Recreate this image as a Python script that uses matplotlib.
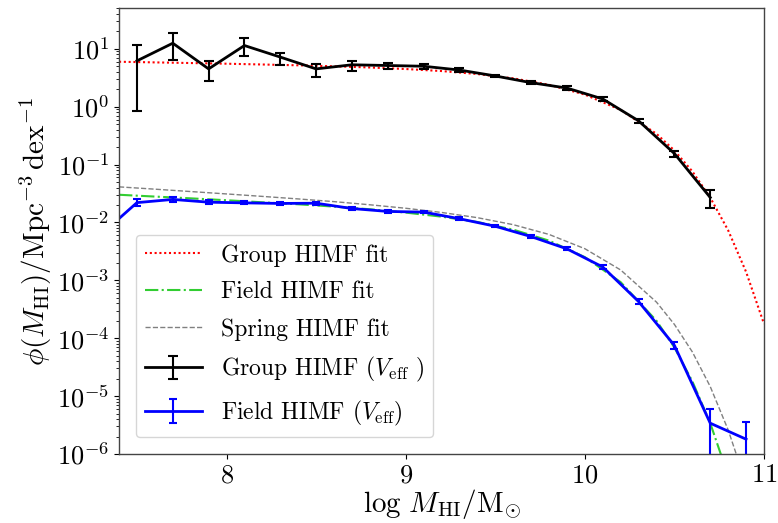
import matplotlib
matplotlib.use("Agg")
import matplotlib.pyplot as plt
import numpy as np

# ---------------- data ----------------
# Group HIMF (V_eff) data points
group_x = [7.5, 7.7, 7.9, 8.1, 8.3, 8.5, 8.7, 8.9, 9.1, 9.3, 9.5, 9.7, 9.9, 10.1, 10.3, 10.5, 10.7]
group_phi = [6.2, 12.5, 4.5, 11.4, 7.2, 4.5, 5.3, 5.15, 5.0, 4.3, 3.4, 2.6, 2.1, 1.36, 0.57, 0.155, 0.027]
group_hi = [11.7, 18.6, 6.2, 15.3, 8.6, 5.4, 6.2, 5.8, 5.5, 4.6, 3.6, 2.75, 2.25, 1.45, 0.62, 0.175, 0.036]
group_lo = [0.83, 6.3, 2.8, 7.4, 5.2, 3.25, 4.2, 4.5, 4.5, 4.0, 3.2, 2.45, 1.95, 1.27, 0.52, 0.135, 0.018]

# Field HIMF (V_eff) data points
field_x = [7.3, 7.5, 7.7, 7.9, 8.1, 8.3, 8.5, 8.7, 8.9, 9.1, 9.3, 9.5, 9.7, 9.9, 10.1, 10.3, 10.5, 10.7, 10.9]
field_phi = [0.0062, 0.022, 0.025, 0.0224, 0.0218, 0.0213, 0.0215, 0.0174, 0.0155, 0.0151, 0.0116,
             0.0086, 0.0057, 0.0035, 0.0017, 4.3e-4, 7.5e-5, 3.4e-6, 1.8e-6]
field_hi = [0.0068, 0.0257, 0.0272, 0.0240, 0.0232, 0.0226, 0.0228, 0.0184, 0.0163, 0.0159, 0.0122,
            0.0090, 0.0060, 0.0037, 0.00181, 4.7e-4, 8.6e-5, 6.0e-6, 3.5e-6]
field_lo = [0.0056, 0.0190, 0.0230, 0.0209, 0.0205, 0.0200, 0.0202, 0.0165, 0.0147, 0.0143, 0.0110,
            0.0082, 0.0054, 0.0033, 0.00159, 3.9e-4, 6.5e-5, 1e-7, 1e-7]

# Fit curves
fit_x = [7.4, 7.6, 7.8, 8.0, 8.2, 8.4, 8.6, 8.8, 9.0, 9.2, 9.4, 9.6, 9.8, 10.0, 10.2, 10.4, 10.5,
         10.6, 10.7, 10.8, 10.9, 11.0]
group_fit = [5.98, 5.83, 5.68, 5.53, 5.36, 5.19, 4.99, 4.76, 4.48, 4.13, 3.67, 3.09, 2.39, 1.62,
             0.88, 0.34, 0.175, 0.0763, 0.0269, 7.3e-3, 1.40e-3, 1.77e-4]
field_fit = [0.0301, 0.0280, 0.0261, 0.0242, 0.0223, 0.0206, 0.0188, 0.0169, 0.0148, 0.0126, 0.0102,
             0.00752, 0.00485, 0.00252, 9.3e-4, 2.0e-4, 6.9e-5, 1.8e-5, 3.4e-6, 4.2e-7, 1e-8, 1e-9]
spring_fit = [0.0412, 0.0376, 0.0342, 0.0311, 0.0282, 0.0255, 0.0229, 0.0202, 0.0176, 0.0149, 0.0121,
              0.00916, 0.00621, 0.00352, 0.00151, 4.2e-4, 1.73e-4, 5.8e-5, 1.46e-5, 2.6e-6, 3.1e-7, 1e-8]

# ---------------- style ----------------
plt.rcParams['font.family'] = 'serif'
plt.rcParams['font.serif'] = ['cmr10', 'DejaVu Serif']
plt.rcParams['mathtext.fontset'] = 'cm'
plt.rcParams['axes.formatter.use_mathtext'] = True
plt.rcParams['axes.unicode_minus'] = False

fig = plt.figure(figsize=(7.78, 5.23), dpi=100)
ax = fig.add_axes([0.153, 0.132, 0.829, 0.852])

ax.plot(fit_x, group_fit, ls=(0, (1, 1.3)), color='red', lw=1.5, label='Group HIMF fit')
ax.plot(fit_x, field_fit, ls='-.', color='limegreen', lw=1.5, label='Field HIMF fit')
ax.plot(fit_x, spring_fit, ls='--', color='gray', lw=1.0, label='Spring HIMF fit')

g_phi = np.array(group_phi)
g_err = [g_phi - np.array(group_lo), np.array(group_hi) - g_phi]
ax.errorbar(group_x, group_phi, yerr=g_err, color='black', lw=2, capsize=3.5, capthick=1.5,
            elinewidth=1.5, label=r'Group HIMF ($V_{\rm eff}$ )')

f_phi = np.array(field_phi)
f_err = [f_phi - np.array(field_lo), np.array(field_hi) - f_phi]
ax.errorbar(field_x, field_phi, yerr=f_err, color='blue', lw=2, capsize=3.0, capthick=1.5,
            elinewidth=1.5, label=r'Field HIMF ($V_{\rm eff}$)')

ax.set_yscale('log')
ax.set_xlim(7.4, 11)
ax.set_ylim(1e-6, 50)
ax.set_xticks([8, 9, 10, 11])
ax.set_yticks([1e-6, 1e-5, 1e-4, 1e-3, 1e-2, 1e-1, 1, 10])
ax.tick_params(axis='both', labelsize=19)
for s in ax.spines.values():
    s.set_color('#444444')
    s.set_linewidth(1.0)

ax.set_xlabel(r'$\log\,M_{\rm HI}/{\rm M}_{\odot}$', fontsize=21, labelpad=0)
ax.set_ylabel(r'$\phi(M_{\rm HI})/{\rm Mpc}^{-3}\,{\rm dex}^{-1}$', fontsize=21, labelpad=2)

ax.legend(loc='lower left', fontsize=17, frameon=True, framealpha=0.8, handlelength=2.4,
          borderaxespad=0.7, labelspacing=0.62)

fig.savefig('out.png', dpi=100)
